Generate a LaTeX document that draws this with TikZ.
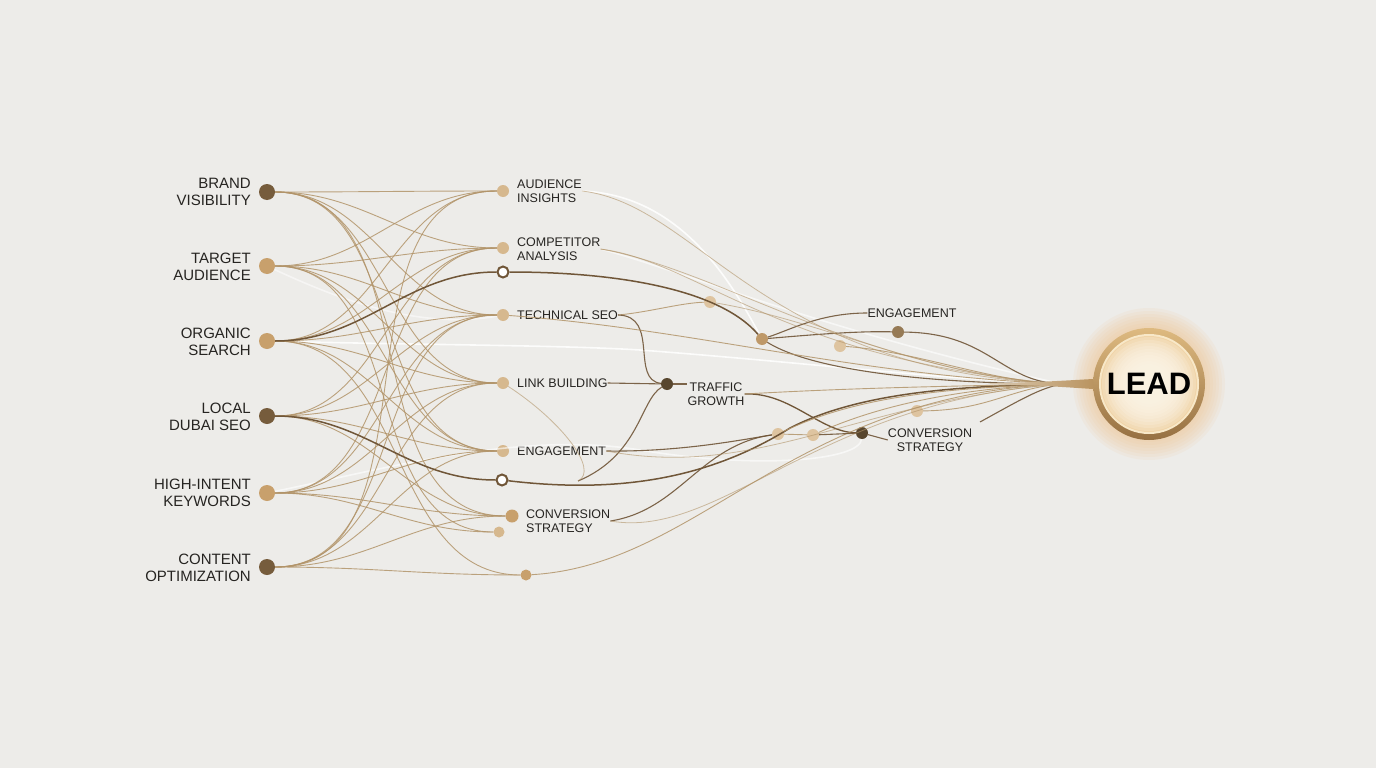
\documentclass[tikz,border=0pt]{standalone}
\usepackage{fontspec}
\setmainfont{Liberation Sans}
\usetikzlibrary{calc}
\definecolor{bg}{RGB}{237,236,233}
\definecolor{txt}{RGB}{38,36,33}
\definecolor{darkdot}{RGB}{118,92,60}
\definecolor{tandot}{RGB}{200,160,108}
\definecolor{ltdot}{RGB}{214,184,142}
\definecolor{pale}{RGB}{222,196,160}
\definecolor{middot}{RGB}{190,152,104}
\definecolor{engd}{RGB}{150,122,85}
\definecolor{trf}{RGB}{88,70,46}
\definecolor{wire}{RGB}{178,148,105}
\definecolor{wired}{RGB}{112,86,56}
\definecolor{glowc}{RGB}{240,196,140}
\definecolor{ringT}{RGB}{222,186,128}
\definecolor{ringB}{RGB}{150,112,66}
\definecolor{ringIn}{RGB}{248,232,200}
\definecolor{creamA}{RGB}{253,246,232}
\definecolor{creamB}{RGB}{240,212,168}
\definecolor{stemc}{RGB}{186,148,96}
\begin{document}
\begin{tikzpicture}[x=1pt,y=-1pt,
  dotL/.style={circle,inner sep=0pt,minimum size=16pt,fill=#1},
  dotM/.style={circle,inner sep=0pt,minimum size=12pt,fill=#1},
  hollow/.style={circle,inner sep=0pt,minimum size=11pt,fill=white,draw=wired,line width=2pt},
  lab/.style={text=txt,font=\fontsize{15}{17}\selectfont,inner sep=0pt},
  labm/.style={text=txt,font=\fontsize{12.5}{14.5}\selectfont,inner sep=0pt},
  wireS/.style={draw=wire,line width=0.9pt,opacity=0.85},
  wireF/.style={draw=wire,line width=0.8pt,opacity=0.6},
  wireD/.style={draw=wired,line width=1.5pt},
  wireM/.style={draw=wired,line width=1.1pt,opacity=0.9},
  glow/.style={draw=white,line width=1.6pt,opacity=0.85},
]
\fill[bg] (0,0) rectangle (1376,768);
\useasboundingbox (0,0) rectangle (1376,768);

% ---------- LEAD ----------
\coordinate (leadc) at (1149,384);
\foreach \r in {76,73,...,56} \fill[glowc,opacity=0.10] (leadc) circle (\r);
\shade[top color=ringT, bottom color=ringB] (leadc) circle (56);
\fill[ringIn] (leadc) circle (50);
\fill[creamB] (leadc) circle (48);
\foreach \r in {47,44,...,20} \fill[creamA,opacity=0.22] (leadc) circle (\r);

% ---------- left nodes ----------
\node[dotL=darkdot] (bv) at (267,192) {};
\node[dotL=tandot] (ta) at (267,266) {};
\node[dotL=tandot] (os) at (267,341) {};
\node[dotL=darkdot] (ld) at (267,416) {};
\node[dotL=tandot] (hi) at (267,493) {};
\node[dotL=darkdot] (co) at (267,567) {};
\node[lab,anchor=east,align=right] (bvl) at (251,192) {BRAND\\VISIBILITY};
\node[lab,anchor=east,align=right] (tal) at (251,267) {TARGET\\AUDIENCE};
\node[lab,anchor=east,align=right] (osl) at (251,342) {ORGANIC\\SEARCH};
\node[lab,anchor=east,align=right] (ldl) at (251,417) {LOCAL\\DUBAI SEO};
\node[lab,anchor=east,align=right] (hil) at (251,493) {HIGH-INTENT\\KEYWORDS};
\node[lab,anchor=east,align=right] (col) at (251,568) {CONTENT\\OPTIMIZATION};

% ---------- middle nodes ----------
\node[dotM=ltdot] (m1) at (503,191) {};
\node[dotM=ltdot] (m2) at (503,248) {};
\node[hollow] (h1) at (503,272) {};
\node[dotM=ltdot] (m3) at (503,315) {};
\node[dotM=ltdot] (m4) at (503,383) {};
\node[dotM=ltdot] (m5) at (503,451) {};
\node[hollow] (h2) at (502,480) {};
\node[dotM=tandot,minimum size=13pt] (m6) at (512,516) {};
\node[dotM=ltdot,minimum size=11pt] (m7) at (499,532) {};
\node[dotM=tandot,minimum size=11pt] (m8) at (526,575) {};
\node[labm,anchor=west,align=left] (m1l) at (517,191) {AUDIENCE\\INSIGHTS};
\node[labm,anchor=west,align=left] (m2l) at (517,249) {COMPETITOR\\ANALYSIS};
\node[labm,anchor=west] (m3l) at (517,315) {TECHNICAL SEO};
\node[labm,anchor=west] (m4l) at (517,383) {LINK BUILDING};
\node[labm,anchor=west] (m5l) at (517,451) {ENGAGEMENT};
\node[labm,anchor=west,align=left] (m6l) at (526,521) {CONVERSION\\STRATEGY};

% ---------- right nodes ----------
\node[dotM=trf] (tg) at (667,384) {};
\node[labm,align=center] (tgl) at (716,394) {TRAFFIC\\GROWTH};
\node[dotM=pale] (d710) at (710,302) {};
\node[dotM=middot] (d762) at (762,339) {};
\node[dotM=pale] (d840) at (840,346) {};
\node[dotM=engd] (d898) at (898,332) {};
\node[labm] (engl) at (912,313) {ENGAGEMENT};
\node[dotM=pale] (d917) at (917,411) {};
\node[dotM=pale] (d778) at (778,434) {};
\node[dotM=pale] (d813) at (813,435) {};
\node[dotM=trf] (d862) at (862,433) {};
\node[labm,align=center] (cvl) at (930,440) {CONVERSION\\STRATEGY};
\coordinate (conv) at (1062,384);
\coordinate (fr) at (980,422);
\coordinate (c1) at (578,481);

% ---------- glow highlights ----------
\draw[glow] (os) .. controls (420,345) and (560,345) .. (640,350) .. controls (800,362) and (950,380) .. (conv);
\draw[glow] (m1l.east) .. controls (680,195) and (730,280) .. (d762);
\draw[glow,opacity=0.6] (m2l.east) .. controls (680,270) and (820,330) .. (conv);
\draw[glow,opacity=0.6] (hi) .. controls (380,470) and (520,430) .. (640,450) .. controls (760,470) and (860,460) .. (d862);
\draw[glow,opacity=0.5] (ta) .. controls (340,300) and (420,330) .. (m3);

% ---------- left -> middle ----------
\foreach \a/\b in {bv/m1,bv/m2,bv/m3,bv/m4,bv/m5,bv/m6,
                   ta/m1,ta/m2,ta/m3,ta/m4,ta/m5,ta/m7,
                   os/m1,os/m2,os/m3,os/m4,os/m5,os/m8,
                   ld/m2,ld/m3,ld/m4,ld/m5,ld/m6,
                   hi/m2,hi/m3,hi/m4,hi/m5,hi/m6,hi/m7,
                   co/m1,co/m3,co/m4,co/m5,co/m6,co/m8}
  \draw[wireS] (\a) to[out=0,in=180] (\b);
\draw[wireD] (os) to[out=0,in=180] (h1);
\draw[wireD] (ld) to[out=0,in=180] (h2);

% ---------- middle -> right ----------
\draw[wireD] (h1) .. controls (620,272) and (720,290) .. (d762);
\draw[wireM] (d762) .. controls (820,375) and (960,384) .. (conv);
\draw[wireS] (m3l.east) .. controls (650,312) and (680,303) .. (d710);
\draw[wireM] (m3l.east) .. controls (660,316) and (630,380) .. (tg);
\draw[wireM] (m4l.east) -- (tg);
\draw[wireM] (tg.east) -- (tgl.west |- tg);
\draw[wireM] (tg) .. controls (640,400) and (640,455) .. (c1);
\draw[wireD,line width=1.3pt] (tgl.east) .. controls (790,392) and (820,432) .. (d862);
\draw[wireM] (m5l.east) .. controls (680,452) and (740,440) .. (d778);
\draw[wireD] (h2) .. controls (620,494) and (710,478) .. (790,428) .. controls (860,392) and (960,386) .. (conv);
\draw[wireM] (m6l.east) .. controls (680,510) and (700,445) .. (d778);
\draw[wireS] (m8) .. controls (700,565) and (790,395) .. (conv);
\draw[wireS] (d778) -- (d813);
\draw[wireM] (d813) -- (d862);
\draw[wireM] (d862) -- (cvl.west);
\draw[wireS] (d813) .. controls (880,405) and (960,388) .. (conv);
\draw[wireS] (d778) .. controls (860,395) and (950,388) .. (conv);
\draw[wireM] (engl.west) .. controls (820,313) and (790,330) .. (d762);
\draw[wireM] (d762) .. controls (820,334) and (860,331) .. (d898);
\draw[wireM] (d898) .. controls (990,333) and (1000,382) .. (conv);
\draw[wireS] (d840) .. controls (920,352) and (990,382) .. (conv);
\draw[wireS] (d917) .. controls (990,410) and (1010,388) .. (conv);
\draw[wireM] (fr) .. controls (1020,400) and (1040,388) .. (conv);
\draw[wireF] (d710) .. controls (820,320) and (940,380) .. (conv);
\draw[wireF] (m2l.east) .. controls (700,262) and (780,360) .. (conv);
\draw[wireF] (m2l.east) .. controls (720,270) and (860,370) .. (conv);
\draw[wireF] (m1l.east) .. controls (700,205) and (760,370) .. (conv);
\draw[wireS] (tgl.east) .. controls (850,388) and (950,386) .. (conv);
\draw[wireF] (m4) .. controls (560,420) and (600,470) .. (c1);
\draw[wireF] (m5l.east) .. controls (760,480) and (860,400) .. (conv);
\draw[wireF] (m6l.east) .. controls (720,540) and (820,400) .. (conv);
\draw[wireS] (m3) .. controls (700,330) and (850,375) .. (conv);

% ---------- stem + LEAD ----------
\shade[left color=stemc!40!bg, right color=stemc] (990,383.2) .. controls (1040,382) .. (1093,379) -- (1093,389) .. controls (1040,385.5) .. (990,384.2) -- cycle;
\node[circle,minimum size=112pt,inner sep=0pt,text=black,font=\fontsize{31}{31}\selectfont\bfseries] (lead) at (leadc) {LEAD};
\end{tikzpicture}
\end{document}
